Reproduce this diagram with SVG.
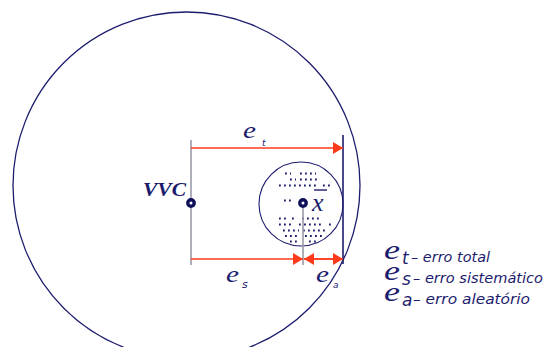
<svg xmlns="http://www.w3.org/2000/svg" width="545" height="347" viewBox="0 0 545 347">
<style>
.navy{stroke:#1c1c6e;fill:none}
.gray{stroke:#9a9aaa;stroke-width:1.6;fill:none}
.red{stroke:#ff3a1a;stroke-width:1.6;fill:none}
.dot{stroke:#1c1c6e;stroke-width:1.8;stroke-dasharray:1.8 3.2;fill:none}
.pt{fill:#fff;stroke:#0f0f5a;stroke-width:3.4}
.e{font-family:"Liberation Serif",serif;font-style:italic;fill:#1c1c6e}
.s{font-family:"DejaVu Sans",sans-serif;font-style:italic;fill:#1c1c6e}
</style>
<defs>
<marker id="ah" markerUnits="userSpaceOnUse" markerWidth="11" markerHeight="12" refX="10" refY="6" orient="auto">
<path d="M0,0 L10,6 L0,12 Z" fill="#ff3a1a"/>
</marker>
</defs>
<rect width="545" height="347" fill="#fff"/>
<g id="big-circle"><circle class="navy" cx="186.5" cy="185.5" r="173.5" stroke-width="1.3"/></g>
<g id="small-circle">
<circle class="navy" cx="301" cy="204" r="42" stroke-width="1.1"/>
<path class="dot" d="M285,173.5h6 M300,173.5h16 M290,179.5h6 M300,179.5h20 M279,185.5h27 M309,185.5h10 M323,185.5h10 M284,200.5h10 M279,218.5h8 M292,218.5h5 M302,218.5h20 M279,224.5h15 M299,224.5h25 M329,224.5h3 M283,230.5h16 M303,230.5h25 M285,236h15 M305,236h20 M290,241.5h8 M309,241.5h10"/>
</g>
<g id="connectors">
<line class="gray" x1="191" y1="140" x2="191" y2="265"/>
<line class="gray" x1="303" y1="203" x2="303" y2="265"/>
<line class="navy" x1="343" y1="135" x2="343" y2="264" stroke-width="1.6"/>
<line class="red" x1="191" y1="148" x2="343" y2="148" marker-end="url(#ah)"/>
<line class="red" x1="191" y1="259" x2="303" y2="259" marker-end="url(#ah)"/>
<line class="red" x1="343" y1="259" x2="304" y2="259" marker-end="url(#ah)"/>
<line class="red" x1="304" y1="259" x2="343" y2="259" marker-end="url(#ah)"/>
</g>
<g id="vvc">
<circle class="pt" cx="191" cy="203" r="3.2"/>
<text x="143" y="196" font-family="Liberation Serif,serif" font-style="italic" font-weight="bold" font-size="18" fill="#1c1c6e" textLength="43" lengthAdjust="spacingAndGlyphs">VVC</text>
</g>
<g id="mean">
<circle class="pt" cx="303" cy="203" r="3.2"/>
<text class="e" x="312" y="211" font-size="26">x</text>
<line class="navy" x1="314" y1="190" x2="327" y2="190" stroke-width="1.4"/>
</g>
<g id="labels">
<text class="e" x="243" y="138" font-size="24" textLength="13" lengthAdjust="spacingAndGlyphs">e</text>
<text class="s" x="262" y="146" font-size="9">t</text>
<text class="e" x="226" y="282" font-size="24" textLength="13" lengthAdjust="spacingAndGlyphs">e</text>
<text class="s" x="242" y="288" font-size="11">s</text>
<text class="e" x="316" y="282" font-size="24" textLength="13" lengthAdjust="spacingAndGlyphs">e</text>
<text class="s" x="333" y="288" font-size="9">a</text>
</g>
<g id="legend">
<text class="e" x="384" y="259" font-size="27" textLength="16" lengthAdjust="spacingAndGlyphs">e</text>
<text class="s" x="402" y="264" font-size="17">t</text>
<text class="s" x="411" y="262" font-size="14" textLength="79" lengthAdjust="spacingAndGlyphs">– erro total</text>
<text class="e" x="384" y="280" font-size="27" textLength="16" lengthAdjust="spacingAndGlyphs">e</text>
<text class="s" x="402" y="285" font-size="17">s</text>
<text class="s" x="413" y="283" font-size="14" textLength="130" lengthAdjust="spacingAndGlyphs">– erro sistemático</text>
<text class="e" x="384" y="301" font-size="27" textLength="16" lengthAdjust="spacingAndGlyphs">e</text>
<text class="s" x="402" y="306" font-size="17">a</text>
<text class="s" x="413" y="304" font-size="14" textLength="117" lengthAdjust="spacingAndGlyphs">– erro aleatório</text>
</g>
</svg>
